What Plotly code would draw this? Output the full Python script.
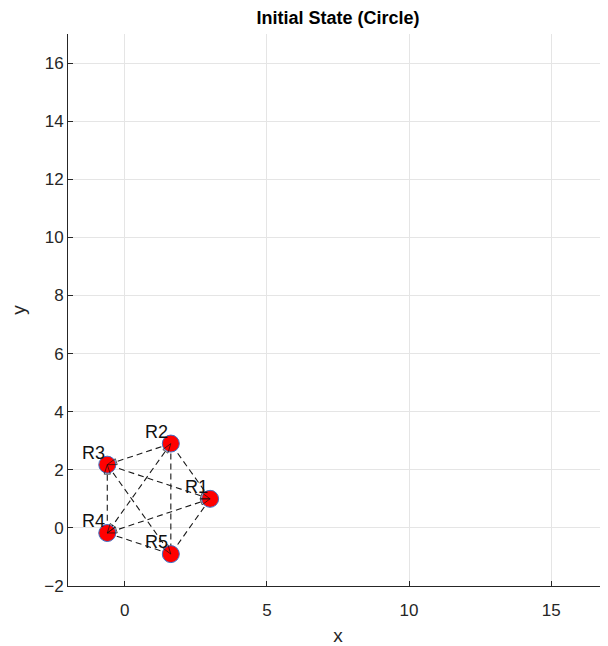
import plotly.graph_objects as go

# Robot positions (initial circle formation)
names = ["R1", "R2", "R3", "R4", "R5"]
xs = [3.0, 1.618, -0.618, -0.618, 1.618]
ys = [1.0, 2.902, 2.176, -0.176, -0.902]

# communication links (undirected pairs, by index)
link_a = [0, 0, 0, 0, 1, 1, 1, 2, 2, 3]
link_b = [1, 2, 3, 4, 2, 3, 4, 3, 4, 4]

# arrow heads visible on the links (source index -> target index)
head_src = [1, 1, 0, 2, 3, 3, 3, 2]
head_tgt = [2, 3, 3, 0, 0, 1, 2, 4]

x_ticks = [0, 5, 10, 15]
y_ticks = [-2, 0, 2, 4, 6, 8, 10, 12, 14, 16]

fig = go.Figure()

FONT = "Liberation Sans, Arial, Helvetica, sans-serif"
AX = "#262626"

# dashed links
for a, b in zip(link_a, link_b):
    fig.add_trace(go.Scatter(
        x=[xs[a], xs[b]], y=[ys[a], ys[b]], mode="lines",
        line=dict(color="#1a1a1a", width=1.1, dash="6px,4px"),
        hoverinfo="skip", showlegend=False))

# robot markers
fig.add_trace(go.Scatter(
    x=xs, y=ys, mode="markers",
    marker=dict(size=17, color="#ff0000", line=dict(color="#3d6fc6", width=1)),
    showlegend=False))

# arrow heads at targets
for s, t in zip(head_src, head_tgt):
    fig.add_trace(go.Scatter(
        x=[xs[s], xs[t]], y=[ys[s], ys[t]], mode="markers",
        marker=dict(symbol="arrow-open", size=[0, 10], color="#111111",
                    angleref="previous", line=dict(width=1, color="#111111")),
        hoverinfo="skip", showlegend=False))

# labels
for n, x, y in zip(names, xs, ys):
    fig.add_annotation(x=x, y=y, text=n, showarrow=False,
                       xshift=-14, yshift=12,
                       font=dict(family=FONT, size=18, color="#111111"))

# the page body adds an 8px offset; figure is sized to compensate
fig.update_layout(
    width=600, height=638,
    margin=dict(l=60, r=0, t=26, b=55),
    plot_bgcolor="white", paper_bgcolor="white",
    title=dict(text="<b>Initial State (Circle)</b>", x=0.5, xref="paper",
               y=1 - 10 / 638, yanchor="middle",
               font=dict(family=FONT, size=18, color="#000000")),
    font=dict(family=FONT, size=17, color=AX),
)
fig.update_xaxes(
    range=[-2, 17], tickvals=x_ticks, ticks="inside", ticklen=5, tickcolor=AX,
    showline=True, linecolor=AX, linewidth=1, mirror=False,
    showgrid=True, gridcolor="#e5e5e5", gridwidth=1, zeroline=False,
    ticklabelstandoff=9,
    tickfont=dict(family=FONT, size=17, color=AX),
    title=dict(text="x", font=dict(family=FONT, size=19, color=AX), standoff=12),
)
fig.update_yaxes(
    range=[-2, 17], tickvals=y_ticks, ticks="inside", ticklen=5, tickcolor=AX,
    showline=True, linecolor=AX, linewidth=1, mirror=False,
    showgrid=True, gridcolor="#e5e5e5", gridwidth=1, zeroline=False,
    tickfont=dict(family=FONT, size=17, color=AX),
    title=dict(text="y", font=dict(family=FONT, size=19, color=AX), standoff=18),
)

fig.write_html("out.html")
